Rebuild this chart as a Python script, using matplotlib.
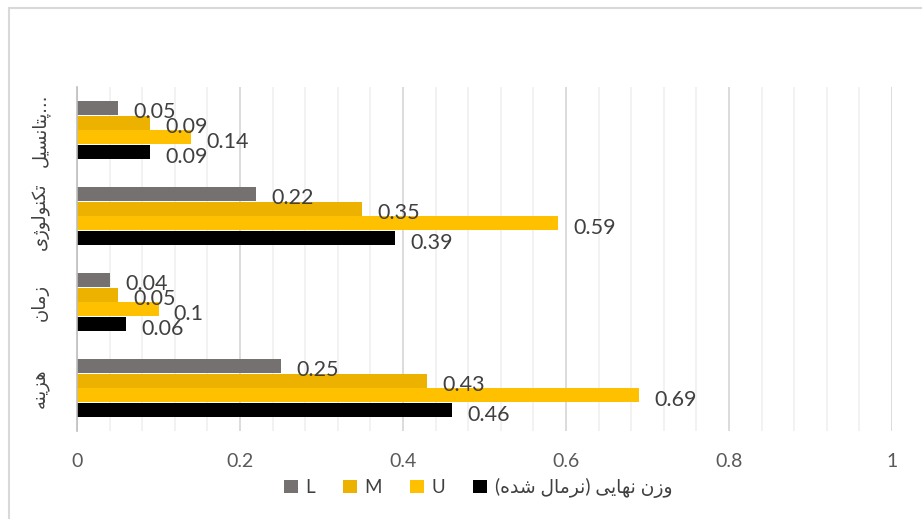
import matplotlib
matplotlib.use("Agg")
import matplotlib.pyplot as plt
from matplotlib.patches import Rectangle, Patch
from matplotlib.ticker import MultipleLocator
from matplotlib.transforms import blended_transform_factory
import numpy as np

plt.rcParams['font.family'] = ['Lato', 'DejaVu Sans']

# ---------------- data ----------------
categories = ['هزینه', 'زمان', 'تکنولوژی', 'پتانسیل']   # bottom -> top
category_suffix = ['', '', '', '...']
series_names = ['L', 'M', 'U', 'وزن نهایی (نرمال شده)']
L_vals = [0.25, 0.04, 0.22, 0.05]
M_vals = [0.43, 0.05, 0.35, 0.09]
U_vals = [0.69, 0.10, 0.59, 0.14]
W_vals = [0.46, 0.06, 0.39, 0.09]
x_ticks = [0, 0.2, 0.4, 0.6, 0.8, 1]
x_tick_labels = ['0', '0.2', '0.4', '0.6', '0.8', '1']

colors = ['#767171', '#EDB100', '#FFC000', '#000000']

# ------------- simple Persian shaping (matplotlib has no bidi) -------------
FORMS = {
    'ا': ('\uFE8D', '\uFE8E', None, None),
    'ت': ('\uFE95', '\uFE96', '\uFE97', '\uFE98'),
    'پ': ('\uFB56', '\uFB57', '\uFB58', '\uFB59'),
    'د': ('\uFEA9', '\uFEAA', None, None),
    'ر': ('\uFEAD', '\uFEAE', None, None),
    'ز': ('\uFEAF', '\uFEB0', None, None),
    'ژ': ('\uFB8A', '\uFB8B', None, None),
    'س': ('\uFEB1', '\uFEB2', '\uFEB3', '\uFEB4'),
    'ش': ('\uFEB5', '\uFEB6', '\uFEB7', '\uFEB8'),
    'ک': ('\uFB8E', '\uFB8F', '\uFB90', '\uFB91'),
    'ل': ('\uFEDD', '\uFEDE', '\uFEDF', '\uFEE0'),
    'م': ('\uFEE1', '\uFEE2', '\uFEE3', '\uFEE4'),
    'ن': ('\uFEE5', '\uFEE6', '\uFEE7', '\uFEE8'),
    'ه': ('\uFEE9', '\uFEEA', '\uFEEB', '\uFEEC'),
    'و': ('\uFEED', '\uFEEE', None, None),
    'ی': ('\uFBFC', '\uFBFD', '\uFBFE', '\uFBFF'),
}
MIRROR = {'(': ')', ')': '('}


def persian(s):
    out = []
    for i, ch in enumerate(s):
        if ch not in FORMS:
            out.append(MIRROR.get(ch, ch))
            continue
        prev = s[i - 1] if i > 0 else None
        nxt = s[i + 1] if i + 1 < len(s) else None
        iso, fin, ini, med = FORMS[ch]
        jp = prev in FORMS and FORMS[prev][2] is not None
        jn = ini is not None and nxt in FORMS
        if jp and jn:
            out.append(med)
        elif jp:
            out.append(fin)
        elif jn:
            out.append(ini)
        else:
            out.append(iso)
    return ''.join(reversed(out))


# ---------------- figure ----------------
W, H = 922, 519
fig = plt.figure(figsize=(W / 100, H / 100), dpi=100)
ax = fig.add_axes([77 / W, 1 - 431 / H, (892 - 77) / W, (431 - 87) / H])

y = np.arange(len(categories))
step = 0.174
bar_h = 0.163
offsets = [1.5 * step, 0.5 * step, -0.5 * step, -1.5 * step]
all_vals = [L_vals, M_vals, U_vals, W_vals]

for vals, off, c in zip(all_vals, offsets, colors):
    bars = ax.barh(y + off, vals, height=bar_h, color=c, zorder=3)
    for b, v in zip(bars, vals):
        ax.annotate(f"{v:g}", (v, b.get_y() + b.get_height() / 2),
                    xytext=(11, -3), textcoords='offset points',
                    ha='left', va='center', fontsize=15.5, color='#404040', zorder=4)

ax.set_xlim(0, 1)
ax.set_ylim(-0.5, len(categories) - 0.5)
ax.set_xticks(x_ticks)
ax.set_xticklabels(x_tick_labels)
ax.xaxis.set_minor_locator(MultipleLocator(0.04))
ax.grid(True, which='major', axis='x', color='#D9D9D9', linewidth=1.3, zorder=0)
ax.grid(True, which='minor', axis='x', color='#F0F0F0', linewidth=1.2, zorder=0)
ax.tick_params(axis='x', which='both', length=0, pad=16, labelsize=14, labelcolor='#595959')
ax.set_yticks([])
for s in ['top', 'right', 'bottom']:
    ax.spines[s].set_visible(False)
ax.spines['left'].set_color('#BFBFBF')
ax.spines['left'].set_linewidth(1.2)
ax.spines['left'].set_zorder(5)

trans = blended_transform_factory(ax.transAxes, ax.transData)
for yi, cat, suf in zip(y, categories, category_suffix):
    ax.text((40 - 77) / (892 - 77), yi, persian(cat) + suf, transform=trans,
            rotation=90, ha='center', va='center', rotation_mode='anchor',
            fontsize=13, color='#404040', family=['DejaVu Sans'])

handles = [Patch(facecolor=c, edgecolor='none') for c in colors]
labels = [n if n.isascii() else persian(n) for n in series_names]
leg = fig.legend(handles, labels, loc='center', bbox_to_anchor=(478 / W, 1 - 488 / H),
                 ncol=4, frameon=False, fontsize=13.5, handlelength=0.75, handleheight=0.75,
                 handletextpad=0.4, columnspacing=1.5, borderpad=0)
for t in leg.get_texts():
    t.set_color('#404040')

# chart border
fig.patches.append(Rectangle((9 / W, -0.5), 2.0, 1.5 - 8 / H + 0.0, transform=fig.transFigure,
                             fill=False, edgecolor='#D9D9D9', linewidth=1.5, zorder=0))

fig.savefig('out.png', dpi=100)
